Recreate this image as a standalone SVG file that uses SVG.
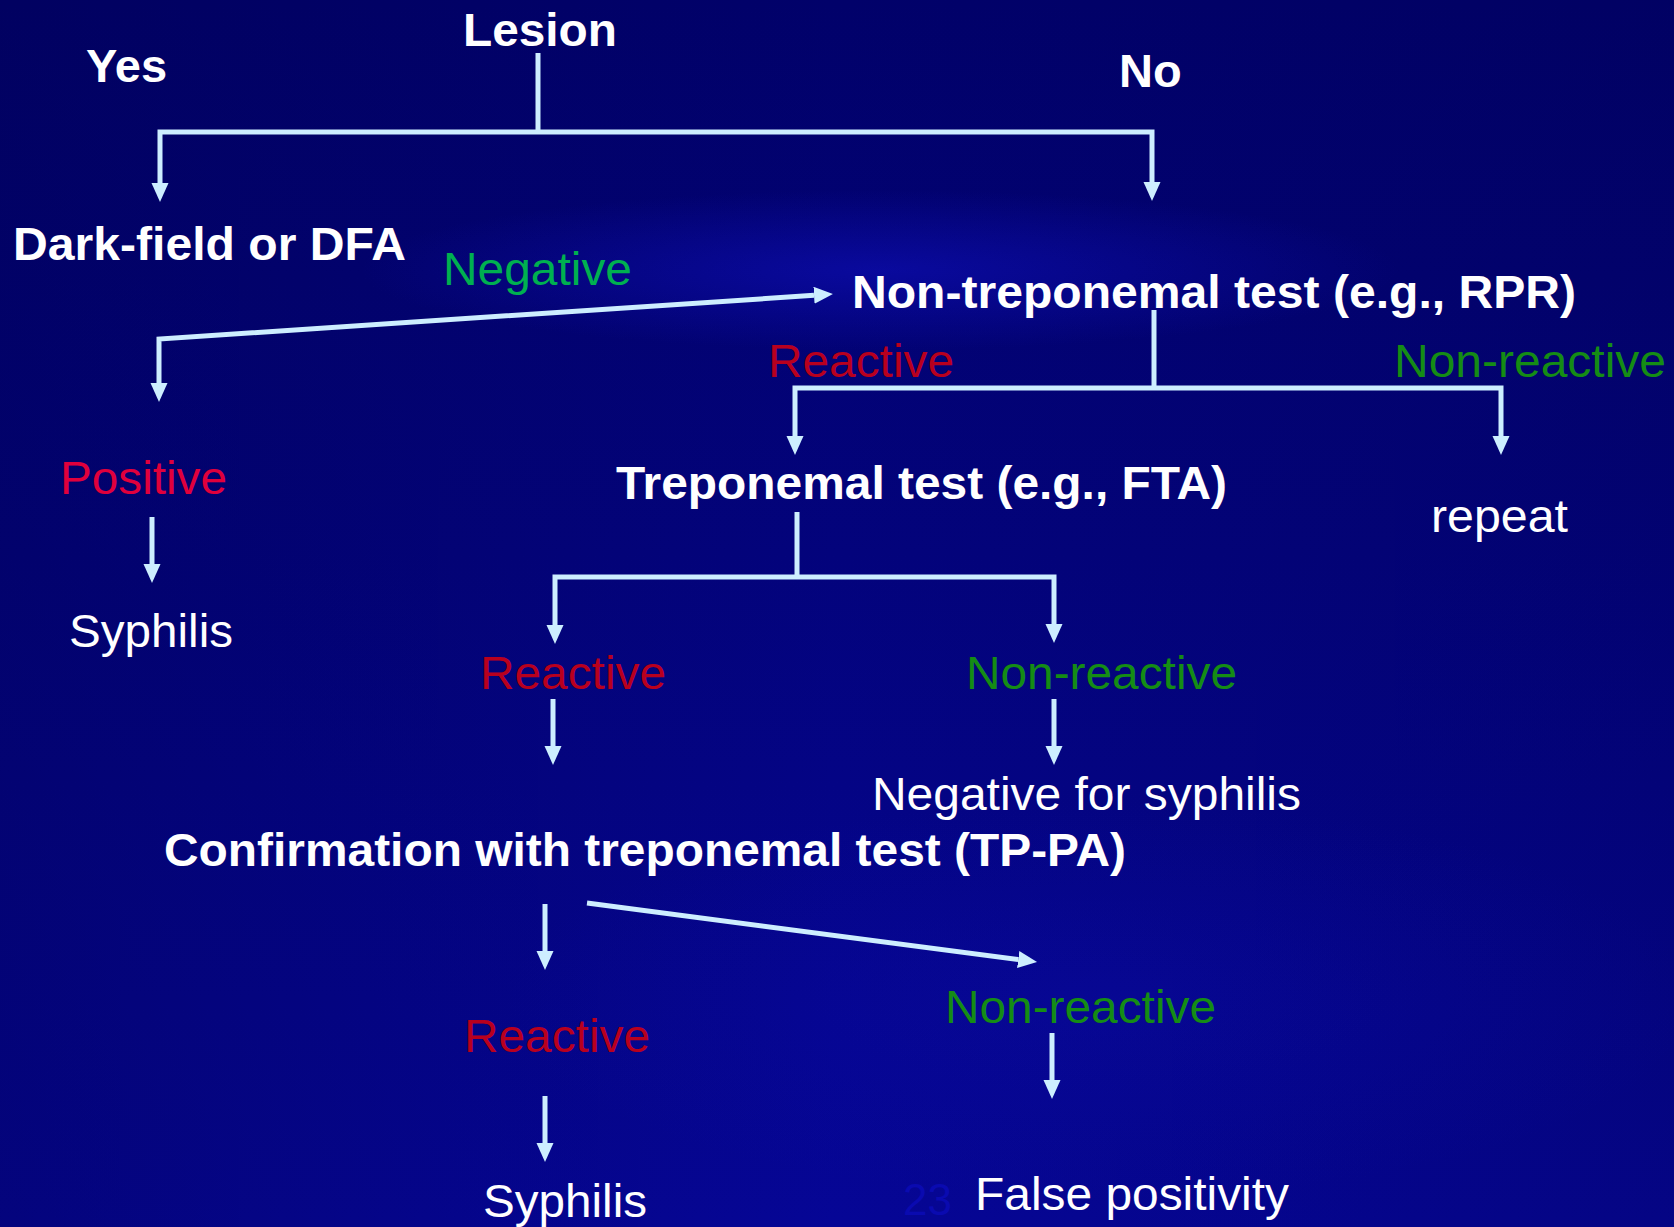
<svg xmlns="http://www.w3.org/2000/svg" width="1674" height="1227" viewBox="0 0 1674 1227">
<defs>
<linearGradient id="bg" x1="0" y1="0" x2="0" y2="1">
<stop offset="0" stop-color="#01016a"/>
<stop offset="0.45" stop-color="#03037c"/>
<stop offset="1" stop-color="#060696"/>
</linearGradient>
<linearGradient id="bgx" x1="0" y1="0" x2="1" y2="0">
<stop offset="0" stop-color="#000050" stop-opacity="0.35"/>
<stop offset="0.5" stop-color="#000050" stop-opacity="0"/>
<stop offset="1" stop-color="#000050" stop-opacity="0.25"/>
</linearGradient>
<radialGradient id="glow" cx="0.5" cy="0.5" r="0.5">
<stop offset="0" stop-color="#1010c0" stop-opacity="0.55"/>
<stop offset="1" stop-color="#1010c0" stop-opacity="0"/>
</radialGradient>
<marker id="ah" markerUnits="userSpaceOnUse" markerWidth="20" markerHeight="18" refX="0" refY="8.5" orient="auto-start-reverse">
<path d="M0,0 L19,8.5 L0,17 z" fill="#cdeeff"/>
</marker>
<style>
.t{font-family:"Liberation Sans",Arial,sans-serif;font-size:47px;}
.b{font-weight:bold;fill:#ffffff;}
.w{fill:#ffffff;}
.red{fill:#b8001e;}
.pos{fill:#e0003c;}
.gl{fill:#00b050;}
.gd{fill:#158c15;}
.c{fill:none;stroke:#cdeeff;stroke-width:5;stroke-linejoin:miter;}
.a{marker-end:url(#ah);}
.s{marker-start:url(#ah);}
</style>
</defs>
<rect x="0" y="0" width="1674" height="1227" fill="url(#bg)"/>
<rect x="0" y="0" width="1674" height="1227" fill="url(#bgx)"/>
<ellipse cx="880" cy="270" rx="520" ry="80" fill="url(#glow)"/>
<ellipse cx="1100" cy="1000" rx="600" ry="200" fill="url(#glow)" opacity="0.35"/>

<g id="connectors">
<path class="c" d="M538,53 V132"/>
<path class="c a s" d="M160,183 V132 H1152 V182"/>
<path class="c a s" d="M159,383 V339 L814,295.3"/>
<path class="c" d="M1154,310 V388"/>
<path class="c a s" d="M795,436 V388 H1501 V436"/>
<path class="c a" d="M152,517 V564"/>
<path class="c" d="M797,512 V577"/>
<path class="c a s" d="M555,625 V577 H1054 V624"/>
<path class="c a" d="M553,699 V746"/>
<path class="c a" d="M1054,699 V746"/>
<path class="c a" d="M545,904 V951"/>
<path class="c a" d="M587,903 L1018.2,959.5"/>
<path class="c a" d="M545,1096 V1143"/>
<path class="c a" d="M1052,1033 V1080"/>
</g>

<g id="lesion"><text class="t b" x="463" y="46" textLength="154" lengthAdjust="spacingAndGlyphs">Lesion</text></g>
<g id="yes"><text class="t b" x="86" y="82">Yes</text></g>
<g id="no"><text class="t b" x="1119" y="87">No</text></g>
<g id="darkfield"><text class="t b" x="13" y="260" textLength="393" lengthAdjust="spacingAndGlyphs">Dark-field or DFA</text></g>
<g id="negative"><text class="t gl" x="443" y="285" textLength="189" lengthAdjust="spacingAndGlyphs">Negative</text></g>
<g id="nontreponemal"><text class="t b" x="852" y="308" textLength="724" lengthAdjust="spacingAndGlyphs">Non-treponemal test (e.g., RPR)</text></g>
<g id="reactive1"><text class="t red" x="768" y="377" textLength="186" lengthAdjust="spacingAndGlyphs">Reactive</text></g>
<g id="nonreactive1"><text class="t gd" x="1394" y="377" textLength="272" lengthAdjust="spacingAndGlyphs">Non-reactive</text></g>
<g id="positive"><text class="t pos" x="60" y="494" textLength="167" lengthAdjust="spacingAndGlyphs">Positive</text></g>
<g id="syphilis1"><text class="t w" x="69" y="647" textLength="164" lengthAdjust="spacingAndGlyphs">Syphilis</text></g>
<g id="treponemal"><text class="t b" x="616" y="499" textLength="611" lengthAdjust="spacingAndGlyphs">Treponemal test (e.g., FTA)</text></g>
<g id="repeat"><text class="t w" x="1431" y="532" textLength="137" lengthAdjust="spacingAndGlyphs">repeat</text></g>
<g id="reactive2"><text class="t red" x="480" y="689" textLength="186" lengthAdjust="spacingAndGlyphs">Reactive</text></g>
<g id="nonreactive2"><text class="t gd" x="966" y="689" textLength="271" lengthAdjust="spacingAndGlyphs">Non-reactive</text></g>
<g id="negsyph"><text class="t w" x="872" y="810" textLength="429" lengthAdjust="spacingAndGlyphs">Negative for syphilis</text></g>
<g id="confirmation"><text class="t b" x="164" y="866" textLength="962" lengthAdjust="spacingAndGlyphs">Confirmation with treponemal test (TP-PA)</text></g>
<g id="reactive3"><text class="t red" x="464" y="1052" textLength="186" lengthAdjust="spacingAndGlyphs">Reactive</text></g>
<g id="syphilis2"><text class="t w" x="483" y="1217" textLength="164" lengthAdjust="spacingAndGlyphs">Syphilis</text></g>
<g id="nonreactive3"><text class="t gd" x="945" y="1023" textLength="271" lengthAdjust="spacingAndGlyphs">Non-reactive</text></g>
<g id="pagenum"><text class="t" x="903" y="1215" style="font-size:44px;fill:#0a0ab0">23</text></g>
<g id="falsepos"><text class="t w" x="975" y="1210" textLength="314" lengthAdjust="spacingAndGlyphs">False positivity</text></g>
</svg>
